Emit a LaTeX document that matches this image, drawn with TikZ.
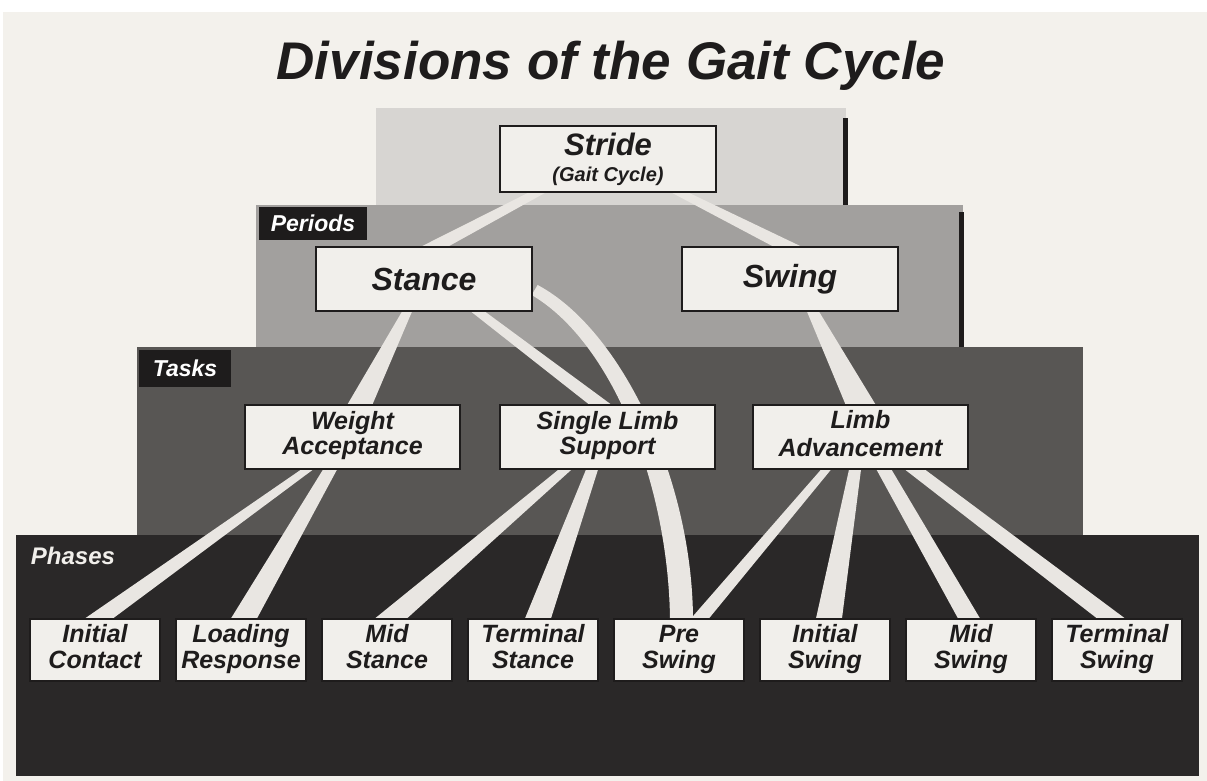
\documentclass[tikz,border=0pt]{standalone}
\usepackage{fontspec}
\setmainfont{Liberation Sans}
\usetikzlibrary{calc}
\pgfdeclarelayer{bglayer}
\pgfdeclarelayer{beamlayer}
\pgfsetlayers{bglayer,beamlayer,main}
\definecolor{paper}{HTML}{F3F1EC}
\definecolor{layA}{HTML}{D7D5D2}
\definecolor{layB}{HTML}{A2A09E}
\definecolor{layC}{HTML}{585654}
\definecolor{layD}{HTML}{2A2828}
\definecolor{boxfill}{HTML}{F1EFEB}
\definecolor{beamcol}{HTML}{E9E6E2}
\definecolor{inkcol}{HTML}{1E1C1C}
\tikzset{
  box/.style={draw=inkcol, line width=0.6pt, fill=boxfill, inner sep=0pt, align=center, text=inkcol},
  periodbox/.style={box, minimum width=108pt, minimum height=32pt, font=\fontsize{16}{18}\selectfont\bfseries\itshape},
  taskbox/.style={box, minimum width=107.5pt, minimum height=32pt, font=\fontsize{12.5}{12.5}\selectfont\bfseries\itshape},
  phasebox/.style={box, minimum width=65pt, minimum height=31pt, font=\fontsize{12.5}{13}\selectfont\bfseries\itshape},
  beam/.style={fill=beamcol},
  tag/.style={fill=inkcol, text=white, inner sep=0pt, font=\fontsize{11.5}{12}\selectfont\bfseries\itshape}
}
\newcommand\twol[2]{\strut #1\\\strut #2}
\newcommand\beam[6]{%
  \fill[beam] ($(#1)+(#3-#5/2,0)$) -- ($(#1)+(#3+#5/2,0)$) -- ($(#2)+(#4+#6/2,0)$) -- ($(#2)+(#4-#6/2,0)$) -- cycle;}
\begin{document}
\begin{tikzpicture}[x=0.5pt,y=-0.5pt]
\useasboundingbox (0,0) rectangle (1207,781);
\begin{pgfonlayer}{bglayer}
  \fill[white] (0,0) rectangle (1207,781);
  \fill[paper] (3,12) rectangle (1207,781);
  \fill[layA] (376,108) rectangle (846,206);
  \fill[inkcol] (843,118) rectangle (848,206);
  \fill[layB] (256,205) rectangle (963,348);
  \fill[inkcol] (959,212) rectangle (964,348);
  \fill[layC] (137,347) rectangle (1083,536);
  \fill[layD] (16,535) rectangle (1199,776);
\end{pgfonlayer}

\node[anchor=base, text=inkcol, font=\fontsize{26.5}{30}\selectfont\bfseries\itshape] (title) at (611,80) {Divisions of the Gait Cycle};

\node[box, minimum width=108pt, minimum height=33pt] (stride) at (608,159)
  {{\fontsize{15.5}{16}\selectfont\bfseries\itshape Stride}\\[1pt]{\fontsize{10}{11}\selectfont\bfseries\itshape (Gait Cycle)}};

\node[tag, minimum width=54pt, minimum height=16.5pt] (periods) at (313,223.5) {Periods};
\node[periodbox] (stance) at (424,279) {Stance};
\node[periodbox] (swing) at (790,279) {Swing};

\node[tag, minimum width=46pt, minimum height=18.5pt] (tasks) at (185,368.5) {Tasks};
\node[taskbox] (wa) at (352.5,437) {\twol{Weight}{Acceptance}};
\node[taskbox] (sls) at (607.5,437) {\twol{Single Limb}{Support}};
\node[taskbox] (la) at (860.5,437) {\twol{Limb}{Advancement}};

\node[text=boxfill, inner sep=0pt, font=\fontsize{12}{12}\selectfont\bfseries\itshape] (phases) at (73,556) {Phases};
\node[phasebox] (ic) at (95,650) {\twol{Initial}{Contact}};
\node[phasebox] (lr) at (241,650) {\twol{Loading}{Response}};
\node[phasebox] (ms) at (387,650) {\twol{Mid}{Stance}};
\node[phasebox] (ts) at (533,650) {\twol{Terminal}{Stance}};
\node[phasebox] (ps) at (679,650) {\twol{Pre}{Swing}};
\node[phasebox] (is) at (825,650) {\twol{Initial}{Swing}};
\node[phasebox] (msw) at (971,650) {\twol{Mid}{Swing}};
\node[phasebox] (tsw) at (1117,650) {\twol{Terminal}{Swing}};

\begin{pgfonlayer}{beamlayer}
  \beam{stride.south}{stance.north}{-71}{11}{17}{27}
  \beam{stride.south}{swing.north}{72}{-3}{17}{28}
  \beam{stance.south}{wa.north}{-17}{7.5}{10}{25}
  \beam{stance.south}{sls.north}{54}{-7.5}{14}{22}
  \beam{swing.south}{la.north}{23}{0}{12}{30}
  \beam{wa.south}{ic.north}{-45.5}{4}{12}{28}
  \beam{wa.south}{lr.north}{-22.5}{3}{14}{26}
  \beam{sls.south}{ms.north}{-42.5}{4}{13}{32}
  \beam{sls.south}{ts.north}{-15.5}{5}{12}{26}
  \beam{la.south}{ps.north}{-34.5}{21}{10}{18}
  \beam{la.south}{is.north}{-5.5}{4}{12}{26}
  \beam{la.south}{msw.north}{23.5}{-2}{15}{22}
  \beam{la.south}{tsw.north}{54.5}{-6}{20}{28}
  \fill[beam] ($(stance.east)+(5,6)$) .. controls ($(stance.east)+(88,50)$) and ($(ps.north)+(13,-141)$) .. ($(ps.north)+(14,0)$)
     -- ($(ps.north)+(-9,0)$) .. controls ($(ps.north)+(-11,-137)$) and ($(stance.east)+(78,62)$) .. ($(stance.east)+(-1,16)$) -- cycle;
\end{pgfonlayer}
\end{tikzpicture}
\end{document}
